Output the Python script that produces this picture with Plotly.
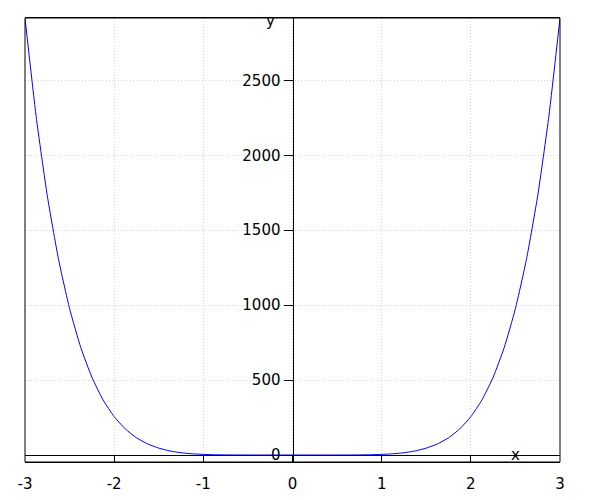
import plotly.graph_objects as go

x_vals = [-3.0, -2.875, -2.75, -2.625, -2.5, -2.375, -2.25, -2.125, -2.0, -1.875, -1.75, -1.625,
          -1.5, -1.375, -1.25, -1.125, -1.0, -0.875, -0.75, -0.625, -0.5, -0.375, -0.25, -0.125,
          0.0, 0.125, 0.25, 0.375, 0.5, 0.625, 0.75, 0.875, 1.0, 1.125, 1.25, 1.375, 1.5, 1.625,
          1.75, 1.875, 2.0, 2.125, 2.25, 2.375, 2.5, 2.625, 2.75, 2.875, 3.0]
y_vals = [2916, 2259, 1730, 1309, 977, 718, 519, 368, 256, 174, 115, 74,
          46, 27, 15, 8, 4, 1.8, 0.7, 0.2, 0.05, 0, 0, 0,
          0, 0, 0, 0, 0.05, 0.2, 0.7, 1.8, 4, 8, 15, 27, 46, 74,
          115, 174, 256, 368, 519, 718, 977, 1309, 1730, 2259, 2916]

x_ticks = [-3, -2, -1, 0, 1, 2, 3]
y_ticks = [0, 500, 1000, 1500, 2000, 2500]

FONT = "DejaVu Sans"

fig = go.Figure()
fig.add_trace(go.Scatter(x=x_vals, y=y_vals, mode="lines",
                         line=dict(color="#0000ff", width=1, shape="spline", smoothing=0.5),
                         showlegend=False, hoverinfo="skip"))

fig.update_layout(
    width=592, height=492,
    margin=dict(l=17, r=40, t=10, b=38),
    paper_bgcolor="white", plot_bgcolor="white",
    font=dict(family=FONT, size=15, color="black"),
    xaxis=dict(range=[-3, 3], tickvals=x_ticks, ticktext=[str(v) for v in x_ticks],
               ticks="inside", ticklen=7, tickcolor="black", tickwidth=1,
               showline=True, linecolor="black", linewidth=1, mirror=True,
               zeroline=False, showgrid=True, gridcolor="#d4d4d4", griddash="1px,2px", gridwidth=1,
               ticklabelstandoff=8, automargin=False),
    yaxis=dict(range=[-46.7, 2916], tickvals=y_ticks, ticktext=[str(v) for v in y_ticks],
               anchor="free", position=0.5,
               ticks="outside", ticklen=9, tickcolor="black", tickwidth=1,
               showline=True, linecolor="black", linewidth=1,
               zeroline=True, zerolinecolor="black", zerolinewidth=1,
               showgrid=True, gridcolor="#d4d4d4", griddash="1px,2px", gridwidth=1,
               automargin=False),
    shapes=[dict(type="rect", xref="paper", yref="paper", x0=0, x1=1, y0=0, y1=1,
                 line=dict(color="black", width=1), fillcolor="rgba(0,0,0,0)")],
    annotations=[
        dict(x=2.5, y=0, xref="x", yref="y", text="x", showarrow=False,
             xanchor="center", yanchor="middle", font=dict(family=FONT, size=15)),
        dict(x=-0.252, y=1, xref="x", yref="paper", text="y", showarrow=False,
             xanchor="center", yanchor="middle", yshift=-3, font=dict(family=FONT, size=15)),
    ],
)

fig.write_html("out.html")
